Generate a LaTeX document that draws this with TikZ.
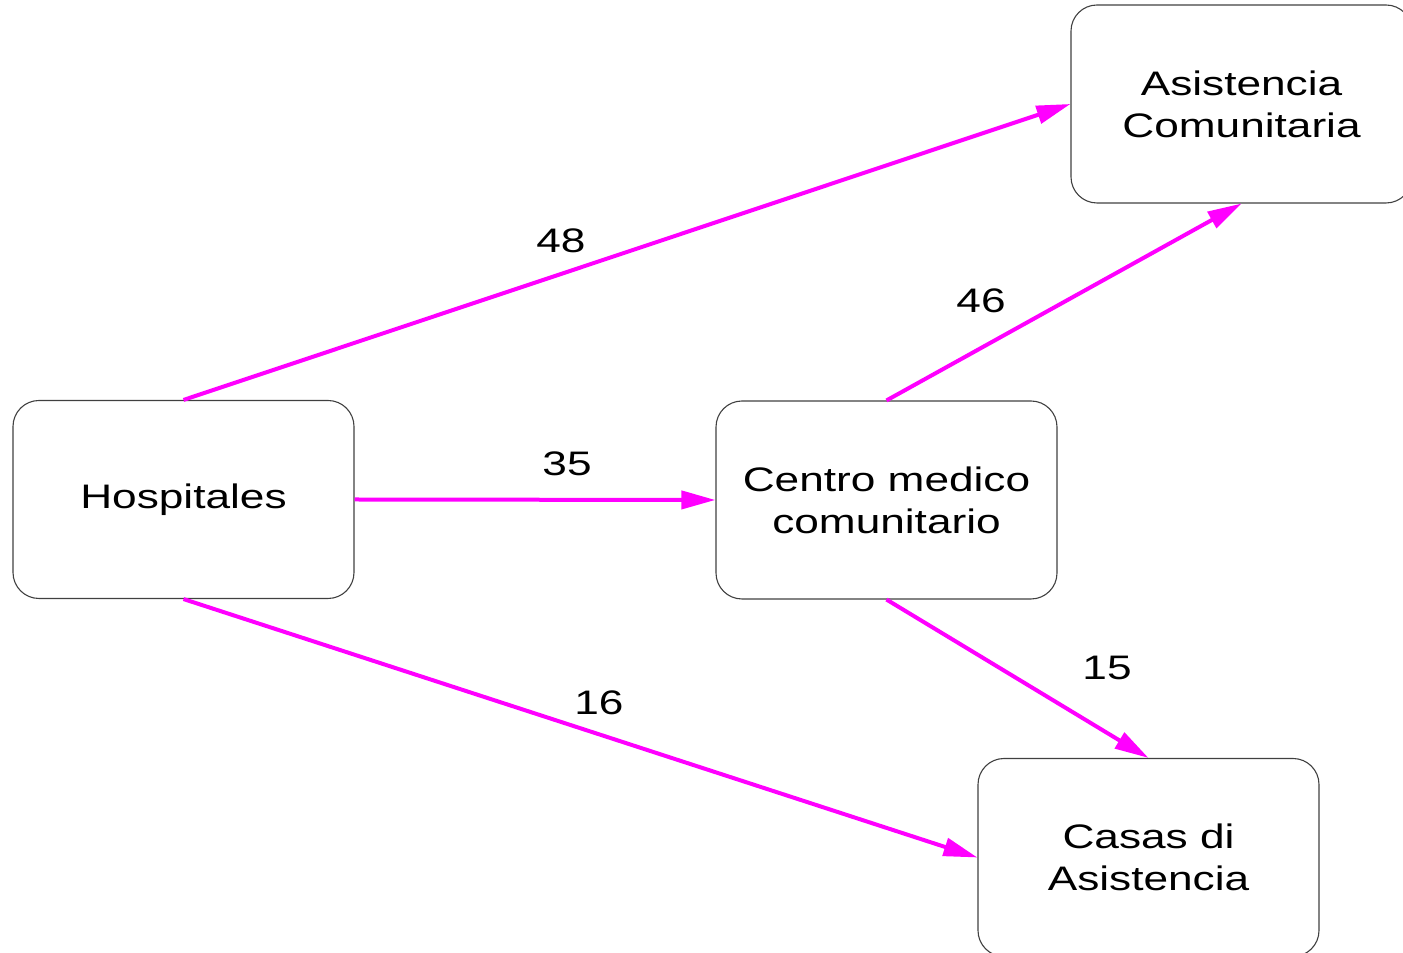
\documentclass[tikz,border=0pt]{standalone}
\usepackage{fontspec}
\newfontfamily\arialw[FakeStretch=1.3]{Liberation Sans}
\usetikzlibrary{arrows.meta}
\definecolor{mag}{HTML}{FF00FF}
\tikzset{
  box/.style={draw=black!75, line width=1.1pt, rounded corners=26pt, minimum width=341pt, minimum height=198pt, inner sep=0pt, align=center, font=\arialw\fontsize{34}{42}\selectfont},
  conn/.style={draw=mag, line width=4pt, -{Triangle[length=34pt,width=18pt]}, shorten >=0pt},
  lbl/.style={font=\arialw\fontsize{34}{42}\selectfont, inner sep=0pt}
}
\begin{document}
\begin{tikzpicture}[x=1pt,y=1pt]
\useasboundingbox (0,0) rectangle (1403,953);
\node[box] (H) at (183.5,453.5) {Hospitales};
\node[box] (C) at (886.5,453) {Centro medico\\comunitario};
\node[box] (A) at (1241.5,849) {Asistencia\\Comunitaria};
\node[box] (S) at (1148.5,95.5) {Casas di\\Asistencia};
\draw[conn] (H.north) -- (A.west);
\draw[conn] (H.east) -- (C.west);
\draw[conn] (H.south) -- (S.west);
\draw[conn] (C.north) -- (A.south);
\draw[conn] (C.south) -- (S.north);
\node[lbl] (l48) at (561,712) {48};
\node[lbl] (l35) at (567,489) {35};
\node[lbl] (l16) at (599,250) {16};
\node[lbl] (l46) at (981,652) {46};
\node[lbl] (l15) at (1107,285) {15};
\end{tikzpicture}
\end{document}
